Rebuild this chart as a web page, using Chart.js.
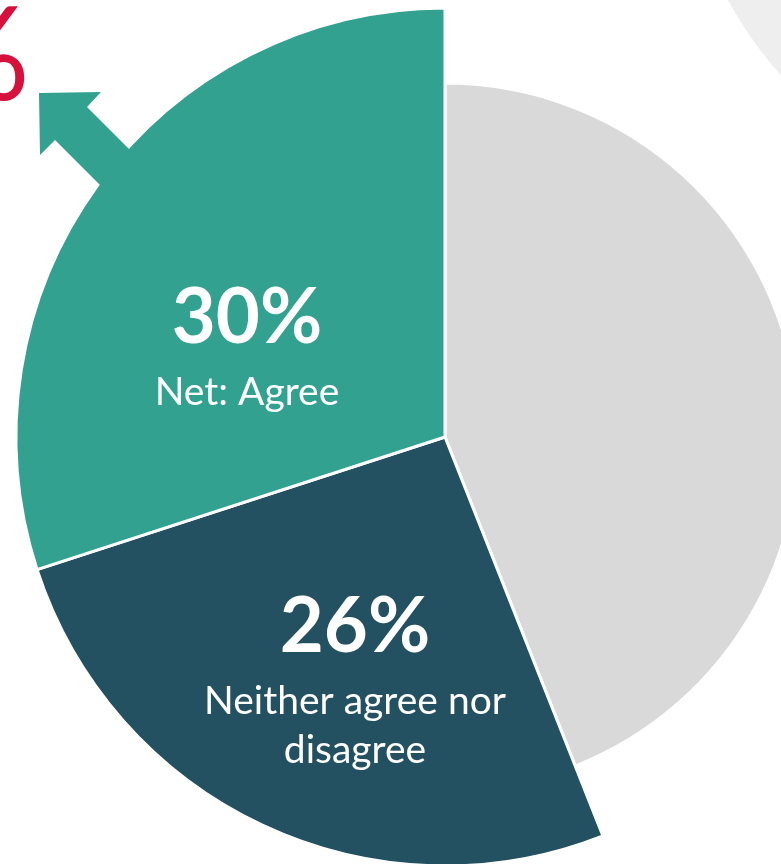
<!DOCTYPE html>
<html>
<head>
<meta charset="utf-8">
<script src="https://cdn.jsdelivr.net/npm/chart.js@4.4.0/dist/chart.umd.min.js"></script>
<style>
  html, body { margin: 0; padding: 0; background: #fff; overflow: hidden; }
  #wrap { position: relative; width: 781px; height: 864px; overflow: hidden; }
  #pie { position: absolute; left: -55px; top: -63px; }
</style>
</head>
<body>
<div id="wrap"><canvas id="pie" width="1000" height="1000"></canvas></div>
<script>
// data
const labels = ["Net: Disagree", "Neither agree nor disagree", "Net: Agree"];
const shares = [44, 26, 30];
const shownNames = [null, ["Neither agree nor", "disagree"], ["Net: Agree"]];

const sliceColors = ["#d9d9d9", "#235161", "#33a190"];
const FONT = "Lato, 'Open Sans', sans-serif";

// grey slice is drawn shorter than the two teal ones
const radiusScale = [0.825, 1, 1];

// where the labels sit, relative to the pie centre
const labelSpots = [null, { dx: -90, dy: 215 }, { dx: -198, dy: -94 }];

const extras = {
  id: "extras",
  afterDatasetUpdate(chart, args) {
    args.meta.data.forEach((arc, i) => {
      arc.outerRadius = arc.outerRadius * radiusScale[i];
    });
  },
  beforeDatasetsDraw(chart) {
    const ctx = chart.ctx;
    const arc0 = chart.getDatasetMeta(0).data[0];
    const cx = arc0.x, cy = arc0.y;
    // pale circle of the neighbouring graphic, top right
    ctx.save();
    ctx.fillStyle = "#eeeeee";
    ctx.beginPath();
    ctx.arc(cx + 655, cy - 642, 425, 0, Math.PI * 2);
    ctx.fill();
    ctx.restore();
  },
  afterDatasetsDraw(chart) {
    const ctx = chart.ctx;
    const arcs = chart.getDatasetMeta(0).data;
    const cx = arcs[0].x, cy = arcs[0].y;

    // arrow leaving the agree slice
    const pts = [[-406, -344], [-344, -345], [-358, -330], [-268, -240],
                 [-300, -207], [-390, -297], [-405, -282]];
    ctx.save();
    ctx.fillStyle = sliceColors[2];
    ctx.beginPath();
    pts.forEach((p, i) => i ? ctx.lineTo(cx + p[0], cy + p[1]) : ctx.moveTo(cx + p[0], cy + p[1]));
    ctx.closePath();
    ctx.fill();

    // red figure cut off at the left edge
    ctx.fillStyle = "#d6113c";
    ctx.font = "130px " + FONT;
    ctx.textAlign = "right";
    ctx.textBaseline = "alphabetic";
    ctx.fillText("%", cx - 415, cy - 337);

    // slice labels
    ctx.fillStyle = "#ffffff";
    ctx.textAlign = "center";
    shares.forEach((v, i) => {
      const spot = labelSpots[i];
      if (!spot) return;
      const x = cx + spot.dx, y = cy + spot.dy;
      ctx.font = "bold 76px " + FONT;
      ctx.fillText(v + "%", x, y);
      ctx.font = "39px " + FONT;
      shownNames[i].forEach((line, j) => ctx.fillText(line, x, y + 62 + j * 49));
    });
    ctx.restore();
  }
};

new Chart(document.getElementById("pie"), {
  type: "pie",
  data: {
    labels: labels,
    datasets: [{
      data: shares,
      backgroundColor: sliceColors,
      borderColor: "#ffffff",
      borderWidth: 3,
      radius: 429
    }]
  },
  options: {
    responsive: false,
    animation: false,
    events: [],
    layout: { padding: 0 },
    plugins: {
      legend: { display: false },
      tooltip: { enabled: false }
    }
  },
  plugins: [extras]
});
</script>
</body>
</html>
